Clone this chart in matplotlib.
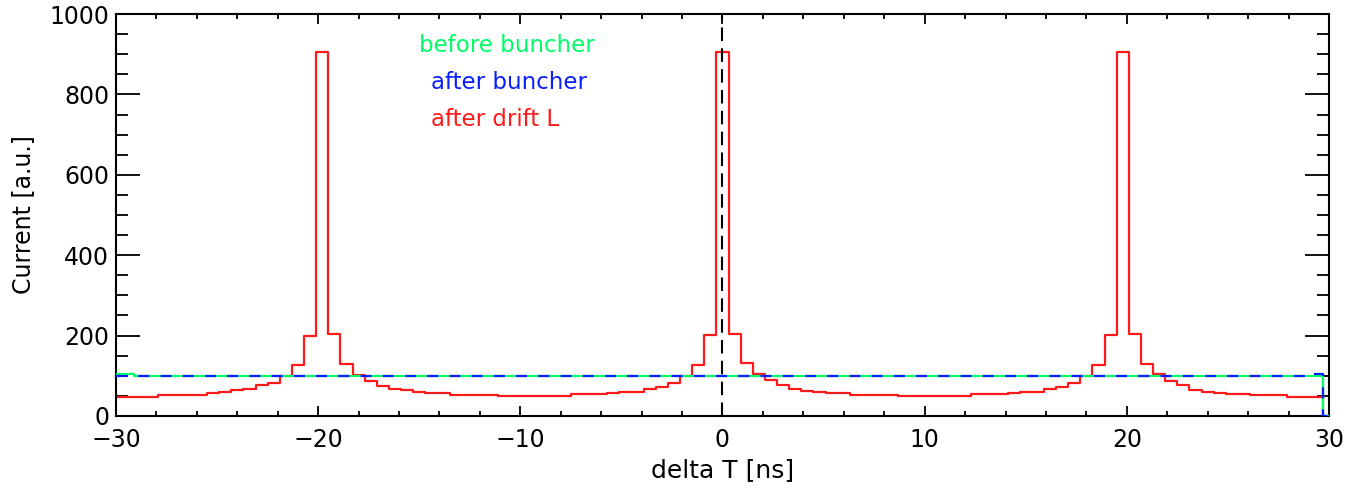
import numpy as np
import matplotlib
matplotlib.use("Agg")
import matplotlib.pyplot as plt
from matplotlib.ticker import MultipleLocator

# bin centres (ns), 0.6 ns grid from -30 to 30
delta_t = np.linspace(-30, 30, 101)

# current before buncher (flat beam)
before_buncher = [104, 104] + [100] * 98 + [0]

# current right after buncher
after_buncher = [100] * 99 + [104, 0]

# current after drift length L
after_drift = [
    48, 48, 48, 48, 51, 51, 51, 51, 56, 60,
    64, 68, 76, 83, 99, 127, 199, 905, 205, 129,
    102, 87, 75, 68, 64, 60, 56, 56, 52, 52,
    52, 52, 49, 49, 49, 49, 49, 49, 54, 54,
    54, 56, 60, 60, 68, 71, 82, 100, 127, 201,
    905, 205, 131, 104, 89, 77, 67, 63, 60, 56,
    56, 53, 53, 53, 53, 49, 49, 49, 49, 49,
    49, 54, 54, 54, 56, 60, 60, 68, 71, 82,
    100, 127, 201, 905, 205, 129, 104, 88, 76, 65,
    60, 57, 54, 54, 52, 52, 52, 48, 48, 48,
    0,
]

labels = ["before buncher", "after buncher", "after drift L"]
colors = ["#00ff66", "#0a1eff", "#ff1a1a"]

plt.rcParams["font.family"] = "DejaVu Sans"
fig = plt.figure(figsize=(13.65, 4.97), dpi=100)
ax = fig.add_axes([0.085, 0.163, 0.8886, 0.8088])

ax.step(delta_t, after_drift, where="mid", color=colors[2], lw=1.6, zorder=2)
ax.step(delta_t, before_buncher, where="mid", color=colors[0], lw=1.6, zorder=3)
ax.step(delta_t, after_buncher, where="mid", color=colors[1], lw=1.6,
        dashes=(5, 5), zorder=4)
ax.axvline(0, color="black", lw=1.5, dashes=(6.5, 3.5), zorder=5)

ax.set_xlim(-30, 30)
ax.set_ylim(0, 1000)
ax.xaxis.set_major_locator(MultipleLocator(10))
ax.xaxis.set_minor_locator(MultipleLocator(2))
ax.yaxis.set_major_locator(MultipleLocator(200))
ax.yaxis.set_minor_locator(MultipleLocator(50))

ax.tick_params(axis="both", which="both", direction="in", top=True, right=True,
               width=1.3, color="black", labelsize=17)
ax.tick_params(axis="x", which="major", length=7, pad=9)
ax.tick_params(axis="x", which="minor", length=3.5)
ax.tick_params(axis="y", which="major", length=17, pad=5)
ax.tick_params(axis="y", which="minor", length=8.5)
for s in ax.spines.values():
    s.set_linewidth(1.5)

ax.set_xlabel("delta T [ns]", fontsize=18, labelpad=4)
ax.set_ylabel("Current [a.u.]", fontsize=17, labelpad=10)

ax.text(-15.0, 922, labels[0], color=colors[0], fontsize=16.5, va="center")
ax.text(-14.4, 830, labels[1], color=colors[1], fontsize=16.5, va="center")
ax.text(-14.4, 738, labels[2], color=colors[2], fontsize=16.5, va="center")

fig.savefig("out.png", dpi=100)
